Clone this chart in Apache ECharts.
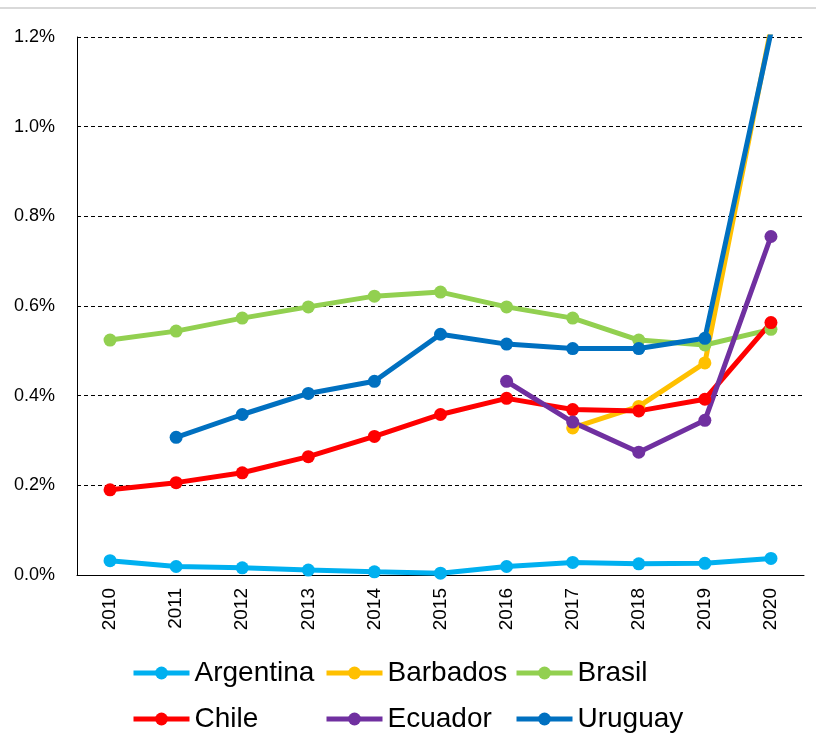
<!DOCTYPE html>
<html>
<head>
<meta charset="utf-8">
<script src="https://cdn.jsdelivr.net/npm/echarts@6/dist/echarts.min.js"></script>
<style>html,body{margin:0;padding:0;background:#fff}#c{width:816px;height:733px}</style>
</head>
<body>
<div id="c"></div>
<script>
var years = ['2010','2011','2012','2013','2014','2015','2016','2017','2018','2019','2020'];
var argentina = [0.032,0.019,0.016,0.011,0.007,0.004,0.019,0.028,0.025,0.026,0.037];
var barbados  = [null,null,null,null,null,null,null,0.328,0.376,0.473,1.22];
var brasil    = [0.524,0.544,0.573,0.598,0.622,0.631,0.598,0.573,0.524,0.513,0.548];
var chile     = [0.190,0.206,0.228,0.264,0.309,0.358,0.394,0.369,0.366,0.392,0.563];
var ecuador   = [null,null,null,null,null,null,0.432,0.341,0.274,0.345,0.755];
var uruguay   = [null,0.307,0.358,0.405,0.432,0.537,0.515,0.505,0.505,0.528,1.21];
var yTicks = [0, 0.2, 0.4, 0.6, 0.8, 1.0, 1.2];

var names = ['Argentina','Barbados','Brasil','Chile','Ecuador','Uruguay'];
var colors = ['#00B0F0','#FFC000','#92D050','#FF0000','#7030A0','#0070C0'];
var datas = [argentina, barbados, brasil, chile, ecuador, uruguay];

var chart = echarts.init(document.getElementById('c'));
var legendPos = [[131,659],[324,659],[514,659],[131,705],[324,705],[514,705]];
var legends = names.map(function(n,i){
  return {
    data:[n], left: legendPos[i][0], top: legendPos[i][1], padding:0,
    itemWidth: 56, itemHeight: 16, itemGap: 4,
    lineStyle:{width:5},
    textStyle:{fontFamily:'Liberation Sans, Arial', fontSize:28, color:'#000'}
  };
});
var series = names.map(function(n,i){
  return {
    name:n, type:'line', data: datas[i], clip:true,
    symbol:'circle', symbolSize:13, showAllSymbol:true,
    connectNulls:false,
    itemStyle:{color:colors[i]},
    lineStyle:{width:5, color:colors[i]},
    emphasis:{disabled:true}
  };
});
chart.setOption({
  animation:false,
  textStyle:{fontFamily:'Liberation Sans, Arial'},
  graphic:[{type:'rect', shape:{x:0,y:7,width:816,height:2}, style:{fill:'#d9d9d9'}}],
  grid:{left:77, right:12, top:37, bottom:158, containLabel:false},
  legend: legends,
  xAxis:{
    type:'category', data:years, boundaryGap:true,
    axisLine:{lineStyle:{color:'#000', width:1}},
    axisTick:{show:false},
    axisLabel:{rotate:90, color:'#000', fontSize:19, margin:13, fontFamily:'Liberation Sans, Arial'}
  },
  yAxis:{
    type:'value', min:0, max:1.2, interval:0.2,
    axisLine:{show:true, lineStyle:{color:'#000', width:1}},
    axisTick:{show:false},
    axisLabel:{color:'#000', fontSize:18, margin:22, fontFamily:'Liberation Sans, Arial',
      formatter:function(v){return v.toFixed(1)+'%';}},
    splitLine:{show:true, lineStyle:{color:'#000', type:[4,3], width:1}}
  },
  series: series
});
</script>
</body>
</html>
